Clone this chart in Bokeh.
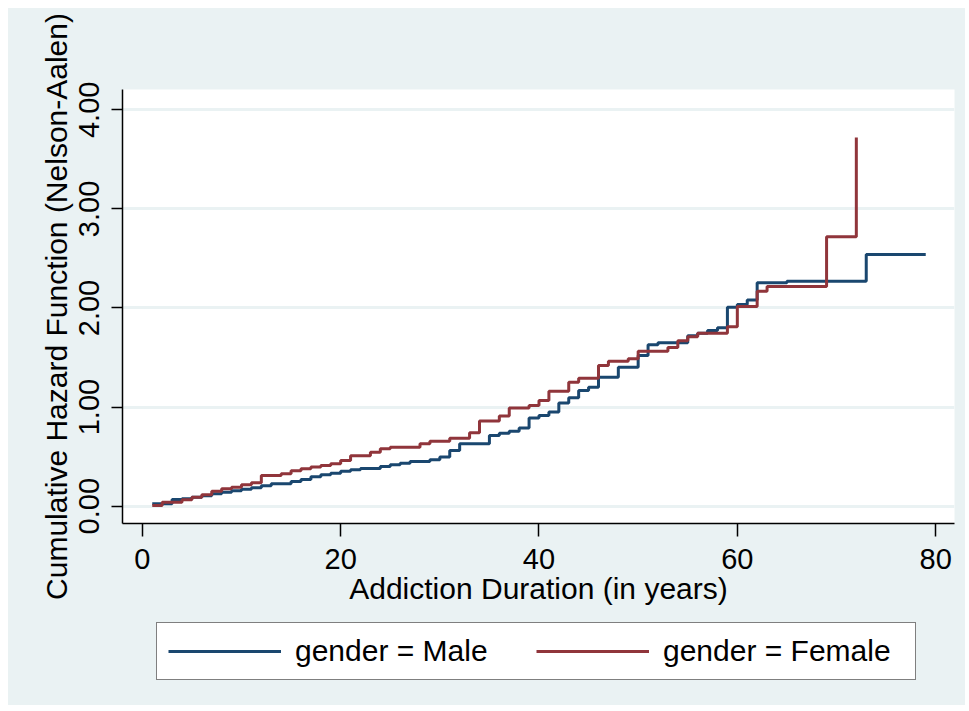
from bokeh.plotting import figure
from bokeh.layouts import column
from bokeh.models import Range1d, FixedTicker, Legend, LegendItem, NumeralTickFormatter
from bokeh.embed import file_html
from bokeh.resources import INLINE

# Nelson-Aalen cumulative hazard, step values (time in years -> value after that time)
male_t = [1, 3, 4, 5, 6, 7, 8, 9, 10, 11, 12, 13, 15, 16, 17, 18, 19, 20, 21, 22,
          24, 25, 26, 27, 29, 30, 31, 32, 35, 36, 37, 38, 39, 40, 41, 42, 43, 44, 45,
          46, 48, 50, 51, 52, 55, 56, 57, 58, 59, 60, 61, 62, 65, 73, 79]
male_v = [0.025, 0.068, 0.075, 0.09, 0.105, 0.125, 0.14, 0.155, 0.17, 0.186, 0.206,
          0.226, 0.25, 0.27, 0.297, 0.317, 0.333, 0.353, 0.367, 0.38,
          0.40, 0.418, 0.434, 0.45, 0.468, 0.495, 0.562, 0.63, 0.713, 0.737, 0.757,
          0.79, 0.89, 0.915, 0.95, 1.04, 1.094, 1.167, 1.2,
          1.30, 1.403, 1.52, 1.63, 1.65, 1.72, 1.745, 1.773, 1.8, 2.008, 2.035, 2.08,
          2.254, 2.27, 2.54, 2.54]

female_t = [1, 2, 4, 5, 6, 7, 8, 9, 10, 11, 12, 14, 15, 16, 17, 18, 19, 20, 21, 23,
            24, 25, 28, 29, 31, 33, 34, 36, 37, 39, 40, 41, 43, 44, 46, 47, 49, 50,
            53, 54, 55, 56, 59, 60, 62, 63, 69, 72]
female_v = [0.007, 0.04, 0.065, 0.09, 0.115, 0.15, 0.175, 0.19, 0.215, 0.235, 0.31,
            0.327, 0.357, 0.377, 0.394, 0.41, 0.428, 0.461, 0.51, 0.545,
            0.58, 0.595, 0.63, 0.656, 0.686, 0.742, 0.86, 0.91, 0.99, 1.016, 1.067,
            1.16, 1.25, 1.29, 1.42, 1.463, 1.487, 1.564,
            1.60, 1.67, 1.71, 1.745, 1.81, 2.015, 2.17, 2.217, 2.72, 3.72]

x_ticks = [0, 20, 40, 60, 80]
y_ticks = [0, 1, 2, 3, 4]

x_title = "Addiction Duration (in years)"
y_title = "Cumulative Hazard Function (Nelson-Aalen)"
labels = ["gender = Male", "gender = Female"]

NAVY = "#1A476F"
MAROON = "#90353B"
BG = "#EAF2F3"
FONT = "Liberation Sans"

p = figure(width=957, height=610, output_backend="svg", toolbar_location=None,
           x_range=Range1d(-2.0, 81.9), y_range=Range1d(-0.175, 4.205),
           min_border_left=114, min_border_right=11, min_border_top=81,
           min_border_bottom=95)
p.background_fill_color = "white"
p.border_fill_color = BG
p.outline_line_color = None

p.xgrid.visible = False
p.ygrid.ticker = FixedTicker(ticks=y_ticks)
p.ygrid.grid_line_color = BG
p.ygrid.grid_line_width = 3

p.step(male_t, male_v, mode="after", line_color=NAVY, line_width=3)
p.step(female_t, female_v, mode="after", line_color=MAROON, line_width=3)

for ax in (p.xaxis[0], p.yaxis[0]):
    ax.axis_line_color = "black"
    ax.axis_line_width = 1.5
    ax.major_tick_line_color = "black"
    ax.major_tick_line_width = 1.5
    ax.major_tick_in = 0
    ax.minor_tick_line_color = None
    ax.major_label_text_font = FONT
    ax.major_label_text_font_size = "29px"
    ax.major_label_text_color = "black"
    ax.axis_label_text_font = FONT
    ax.axis_label_text_font_size = "30px"
    ax.axis_label_text_font_style = "normal"
    ax.axis_label_text_color = "black"

p.xaxis.ticker = FixedTicker(ticks=x_ticks)
p.xaxis.major_tick_out = 13
p.xaxis.major_label_standoff = 12
p.xaxis.axis_label = x_title
p.xaxis.axis_label_standoff = 0

p.yaxis.ticker = FixedTicker(ticks=y_ticks)
p.yaxis.formatter = NumeralTickFormatter(format="0.00")
p.yaxis.major_tick_out = 11
p.yaxis.major_label_orientation = "vertical"
p.yaxis.major_label_standoff = 12
p.yaxis.axis_label = y_title
p.yaxis.axis_label_standoff = 4

# legend strip below the plot
p2 = figure(width=957, height=87, output_backend="svg", toolbar_location=None,
            x_range=Range1d(1000, 1001), y_range=Range1d(1000, 1001),
            x_axis_location=None, y_axis_location=None, min_border=0)
p2.grid.visible = False
p2.outline_line_color = None
p2.background_fill_color = BG
p2.border_fill_color = BG
r_m = p2.step(male_t, male_v, mode="after", line_color=NAVY, line_width=3)
r_f = p2.step(female_t, female_v, mode="after", line_color=MAROON, line_width=3)

legend = Legend(items=[LegendItem(label=labels[0], renderers=[r_m]),
                       LegendItem(label=labels[1], renderers=[r_f])],
                orientation="horizontal", location=(34, 25))
legend.label_text_font = FONT
legend.label_text_font_size = "30px"
legend.label_text_color = "black"
legend.glyph_width = 113
legend.glyph_height = 30
legend.label_standoff = 14
legend.label_width = 241
legend.spacing = 0
legend.padding = 11
legend.margin = 0
legend.border_line_color = "black"
legend.border_line_width = 1.5
legend.background_fill_color = "white"
legend.background_fill_alpha = 1
p2.add_layout(legend, "center")

layout = column(p, p2, spacing=0, margin=(8, 0, 0, 8),
                styles={"background-color": BG})

open("out.html", "w").write(file_html(layout, INLINE))
